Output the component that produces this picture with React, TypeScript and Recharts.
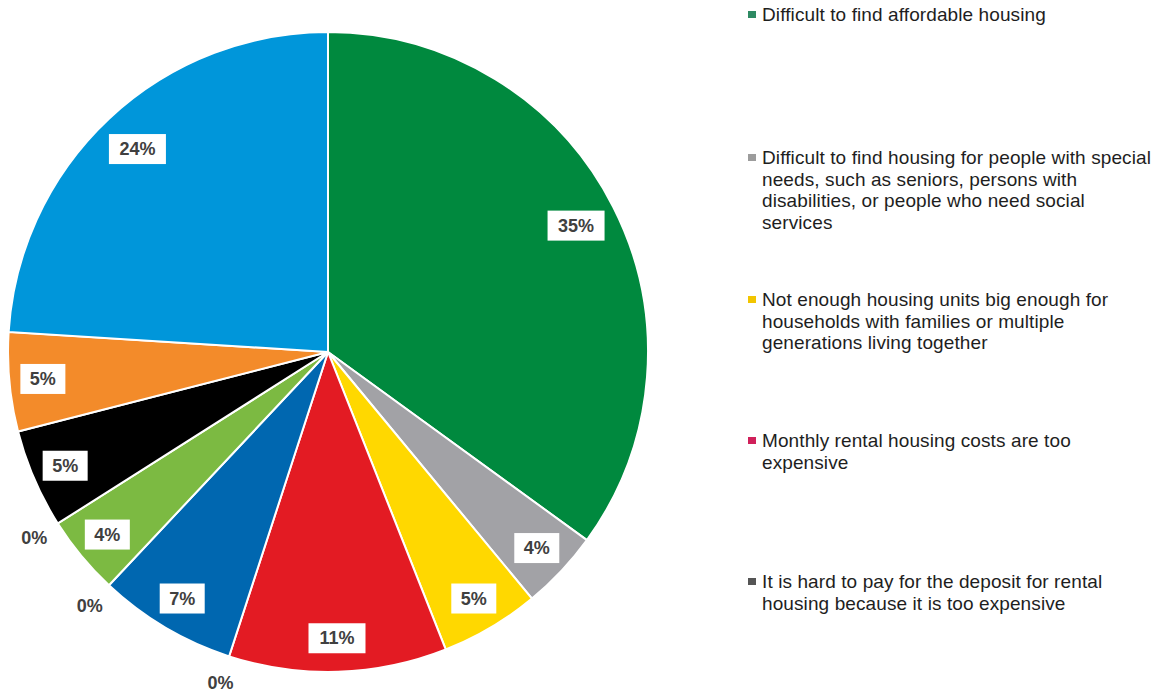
import React from "react";
import { PieChart, Pie, Cell } from "recharts";

const categories = [
  "Difficult to find affordable housing",
  "Difficult to find housing for people with special needs",
  "Not enough housing units big enough",
  "Monthly rental housing costs are too expensive",
  "Hard to pay the deposit",
  "Category 6",
  "Category 7",
  "Category 8",
  "Category 9",
  "Category 10",
  "Category 11",
  "Category 12",
];
const values = [35, 4, 5, 11, 0, 7, 0, 4, 0, 5, 5, 24];
const sliceColors = [
  "#00893E", "#A2A2A6", "#FFD800", "#E31B23", "#4D4D4D", "#0067B0",
  "#5A5A5A", "#7CBA42", "#6A6A6A", "#000000", "#F38B2A", "#0096DA",
];

const legendLines = [
  ["Difficult to find affordable housing"],
  [
    "Difficult to find housing for people with special",
    "needs, such as seniors, persons with",
    "disabilities, or people who need social",
    "services",
  ],
  [
    "Not enough housing units big enough for",
    "households with families or multiple",
    "generations living together",
  ],
  ["Monthly rental housing costs are too", "expensive"],
  ["It is hard to pay for the deposit for rental", "housing because it is too expensive"],
];
const legendColors = ["#2E8A63", "#9C9C9C", "#F2C500", "#D0205A", "#555555"];
const legendTops = [-4, 139, 281, 422, 563];

const data = categories.map((name, i) => ({ name, value: values[i] }));

const RAD = Math.PI / 180;

const renderLabel = (props: any) => {
  const { cx, cy, midAngle, outerRadius, value, index } = props;
  const isZero = value === 0;
  const r = isZero ? outerRadius + 28 : value >= 20 ? outerRadius * 0.87 : outerRadius * 0.895;
  const x = cx + r * Math.cos(midAngle * RAD);
  const y = cy - r * Math.sin(midAngle * RAD);
  const text = `${value}%`;
  const w = text.length * 12 + 21;
  const h = 30;
  return (
    <g key={`lbl-${index}`}>
      {!isZero && (
        <rect x={x - w / 2} y={y - h / 2} width={w} height={h} fill="#FFFFFF" />
      )}
      <text
        x={x}
        y={y}
        textAnchor="middle"
        dominantBaseline="central"
        fontFamily="'Liberation Sans', Arial, sans-serif"
        fontWeight="bold"
        fontSize={18}
        fill="#404040"
      >
        {text}
      </text>
    </g>
  );
};

export default function App() {
  return (
    <div style={{ position: "relative", width: 1154, height: 686, background: "#fff" }}>
      <PieChart width={1154} height={686} margin={{ top: 0, right: 0, bottom: 0, left: 0 }}>
        <Pie
          data={data}
          dataKey="value"
          nameKey="name"
          cx={320}
          cy={344}
          outerRadius={320}
          startAngle={90}
          endAngle={-270}
          stroke="#FFFFFF"
          strokeWidth={2}
          label={renderLabel}
          labelLine={false}
          isAnimationActive={false}
        >
          {data.map((d, i) => (
            <Cell key={d.name + i} fill={sliceColors[i]} />
          ))}
        </Pie>
      </PieChart>
      <div
        style={{
          position: "absolute",
          left: 738,
          top: 0,
          width: 420,
          fontFamily: "'Liberation Sans', Arial, sans-serif",
          fontSize: 19,
          letterSpacing: 0.1,
          lineHeight: "21.5px",
          color: "#1E1E1E",
        }}
      >
        {legendLines.map((lines, i) => (
          <div key={i} style={{ position: "absolute", top: legendTops[i], left: 0 }}>
            <div
              style={{
                position: "absolute",
                left: 2,
                top: 7,
                width: 8,
                height: 7,
                background: legendColors[i],
              }}
            />
            <div style={{ marginLeft: 16, whiteSpace: "nowrap" }}>
              {lines.map((l, j) => (
                <div key={j}>{l}</div>
              ))}
            </div>
          </div>
        ))}
      </div>
    </div>
  );
}
